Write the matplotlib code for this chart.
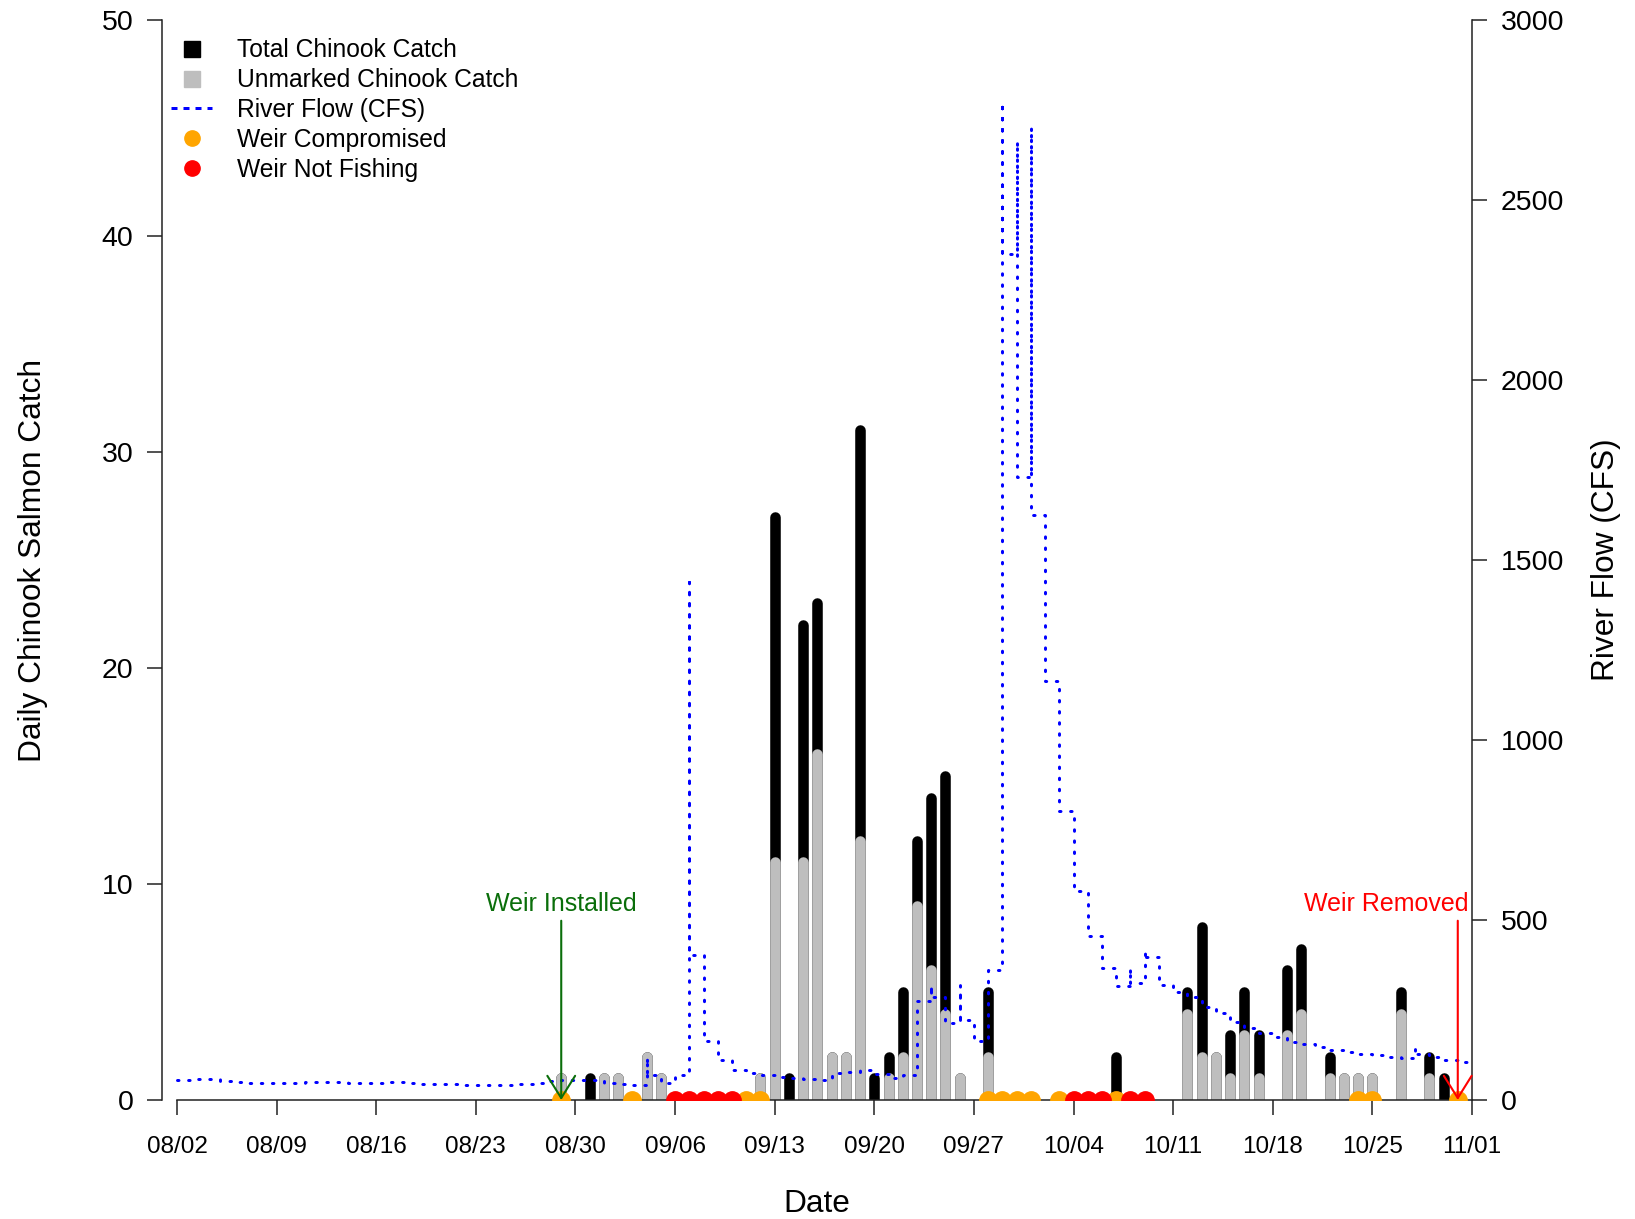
import matplotlib.pyplot as plt
import matplotlib.dates as mdates
import pandas as pd
from matplotlib.lines import Line2D

YEAR = 2023

# daily weir catch (dates with any fish)
catch_dates = ["08/29", "08/31", "09/01", "09/02", "09/04", "09/05", "09/12", "09/13",
               "09/14", "09/15", "09/16", "09/17", "09/18", "09/19", "09/20", "09/21",
               "09/22", "09/23", "09/24", "09/25", "09/26", "09/28", "10/07", "10/12",
               "10/13", "10/14", "10/15", "10/16", "10/17", "10/19", "10/20", "10/22",
               "10/23", "10/24", "10/25", "10/27", "10/29", "10/30"]
total_catch = [1, 1, 1, 1, 2, 1, 1, 27, 1, 22, 23, 2, 2, 31, 1, 2, 5, 12, 14, 15, 1, 5,
               2, 5, 8, 2, 3, 5, 3, 6, 7, 2, 1, 1, 1, 5, 2, 1]
unmarked_catch = [1, 0, 1, 1, 2, 1, 1, 11, 0, 11, 16, 2, 2, 12, 0, 1, 2, 9, 6, 4, 1, 2,
                  0, 4, 2, 2, 1, 3, 1, 3, 4, 1, 1, 1, 1, 4, 1, 0]

compromised_dates = ["08/29", "09/03", "09/11", "09/12", "09/28", "09/29", "09/30", "10/01",
                     "10/03", "10/07", "10/24", "10/25", "10/31"]
not_fishing_dates = ["09/06", "09/07", "09/08", "09/09", "09/10", "10/04", "10/05", "10/06",
                     "10/08", "10/09"]

# river flow, one value per day from 08/02 to 11/01
flow_start = "08/02"
flow_cfs = [55, 58, 58, 53, 50, 48, 47, 46, 47, 49, 50, 49, 48, 47, 48, 49, 47, 45, 44, 44,
            43, 42, 43, 43, 44, 46, 52, 56, 56, 56, 47, 44, 42, 69, 46, 70, 403, 165, 110, 83,
            74, 69, 65, 60, 57, 56, 76, 78, 83, 72, 60, 70, 275, 287, 215, 222, 165, 361, 2350,
            1731, 1625, 1165, 803, 580, 456, 366, 318, 325, 396, 320, 300, 287, 259, 241, 218,
            200, 187, 176, 162, 155, 148, 139, 134, 128, 125, 120, 118, 128, 120, 111, 106, 104]
# short-lived peaks recorded on some days
flow_peaks = {"09/04": 120, "09/07": 1440, "09/24": 320, "09/26": 320, "09/29": 2773,
              "09/30": 2664, "10/01": 2704, "10/08": 366, "10/09": 415, "10/28": 144}

installed_date = "08/29"
removed_date = "10/31"


def to_date(mmdd):
    return pd.Timestamp(f"{YEAR}/{mmdd}")


def main():
    plt.rcParams["font.family"] = ["Liberation Sans", "DejaVu Sans"]

    fig = plt.figure(figsize=(16.35, 12.19), dpi=100)
    ax = fig.add_axes([162 / 1635, 119 / 1219, 1310 / 1635, 1080 / 1219])
    ax2 = ax.twinx()

    start = to_date("08/02")
    end = to_date("11/01")
    ticks = pd.date_range(start, end, freq="7D")

    # bars as thick round-capped lines
    cdates = [to_date(d) for d in catch_dates]
    tot = ax.vlines(cdates, 0, total_catch, colors="black", linewidth=7.6)
    tot.set_capstyle("round")
    ud = [d for d, u in zip(cdates, unmarked_catch) if u > 0]
    uv = [u for u in unmarked_catch if u > 0]
    unm = ax.vlines(ud, 0, uv, colors="#bebebe", linewidth=7.6)
    unm.set_capstyle("round")

    # flow as a daily step line
    fdates = pd.date_range(to_date(flow_start), periods=len(flow_cfs), freq="D")
    xs, ys = [fdates[0]], [flow_cfs[0]]
    for i in range(1, len(flow_cfs)):
        d = fdates[i]
        xs.append(d)
        ys.append(flow_cfs[i - 1])
        key = d.strftime("%m/%d")
        if key in flow_peaks:
            xs.append(d)
            ys.append(flow_peaks[key])
        xs.append(d)
        ys.append(flow_cfs[i])
    ax2.plot(xs, ys, color="blue", linewidth=2.16, dashes=(0.5, 3.2),
             dash_capstyle="round", zorder=3)

    ax2.plot([to_date(d) for d in compromised_dates], [0] * len(compromised_dates), "o",
             color="orange", markersize=12.5, zorder=4)
    ax2.plot([to_date(d) for d in not_fishing_dates], [0] * len(not_fishing_dates), "o",
             color="red", markersize=12.5, zorder=4)

    # weir installed / removed notes
    for mmdd, label, col, text_day in [(installed_date, "Weir Installed", "#0a6e0a", installed_date),
                                       (removed_date, "Weir Removed", "red", "10/26")]:
        x = mdates.date2num(to_date(mmdd))
        xt = mdates.date2num(to_date(text_day))
        ax2.text(xt, 9.07, label, transform=ax.transData, color=col, fontsize=18,
                 ha="center", va="center", zorder=6)
        ax2.annotate("", xy=(x, 0), xytext=(x, 8.3), xycoords=ax.transData,
                     textcoords=ax.transData,
                     arrowprops=dict(arrowstyle="->,head_length=0.8,head_width=0.5",
                                     color=col, lw=1.5, shrinkA=0, shrinkB=0,
                                     mutation_scale=20),
                     zorder=6)

    left = mdates.date2num(start) - 15 / 14.23
    ax.set_xlim(left, mdates.date2num(end))
    ax.set_ylim(0, 50)
    ax2.set_ylim(0, 3000)

    ax.set_xticks(ticks)
    ax.xaxis.set_major_formatter(mdates.DateFormatter("%m/%d"))
    ax.set_yticks(range(0, 51, 10))
    ax2.set_yticks(range(0, 3001, 500))

    for a in (ax, ax2):
        a.tick_params(axis="both", length=10.8, width=1.1, direction="out", color="#222222")
        a.tick_params(axis="y", labelsize=20.5, pad=9.8)
        a.spines["top"].set_visible(False)
    ax.tick_params(axis="x", labelsize=17.5, pad=15)
    ax.spines["right"].set_visible(False)
    ax2.spines["left"].set_visible(False)
    ax2.spines["bottom"].set_visible(False)
    ax.spines["bottom"].set_bounds(mdates.date2num(start), mdates.date2num(end))
    ax.spines["left"].set_bounds(0, 50)
    ax2.spines["right"].set_bounds(0, 3000)
    for s in (ax.spines["bottom"], ax.spines["left"], ax2.spines["right"]):
        s.set_linewidth(1.1)
        s.set_color("#222222")

    ax.set_xlabel("Date", fontsize=22.8)
    ax.xaxis.set_label_coords(0.5, -0.0825)
    ax.set_ylabel("Daily Chinook Salmon Catch", fontsize=22.8)
    ax.yaxis.set_label_coords(-0.0870, 0.5)
    ax2.set_ylabel("River Flow (CFS)", fontsize=22.8)
    ax2.yaxis.set_label_coords(1.0905, 0.5)

    handles = [
        Line2D([], [], marker="s", color="black", linestyle="none", markersize=12),
        Line2D([], [], marker="s", color="#bebebe", linestyle="none", markersize=12),
        Line2D([], [], color="blue", linewidth=2.16, dashes=(2.0, 2.0)),
        Line2D([], [], marker="o", color="orange", linestyle="none", markersize=11),
        Line2D([], [], marker="o", color="red", linestyle="none", markersize=11),
    ]
    labels = ["Total Chinook Catch", "Unmarked Chinook Catch", "River Flow (CFS)",
              "Weir Compromised", "Weir Not Fishing"]
    ax2.legend(handles, labels, loc="upper left", bbox_to_anchor=(0.0071, 0.983),
               frameon=False, fontsize=17.7, handlelength=1.65, handletextpad=1.03,
               labelspacing=0.237, borderpad=0, borderaxespad=0)

    fig.savefig("out.png", dpi=100)
    plt.close(fig)


if __name__ == "__main__":
    main()
